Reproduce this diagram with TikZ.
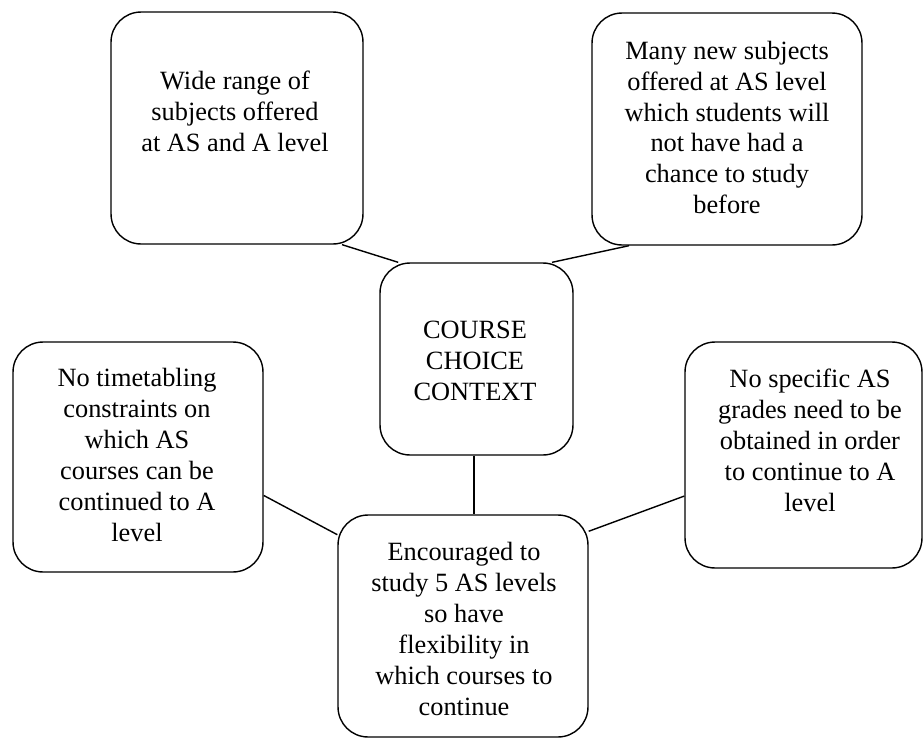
\documentclass[tikz,border=0pt]{standalone}
\usepackage{fontspec}
\setmainfont{Liberation Serif}
\begin{document}
\begin{tikzpicture}[x=0.02cm, y=-0.02cm,
    box/.style={draw, rounded corners=0.6cm, line width=0.8pt, inner sep=0pt},
    txt/.style={align=center, inner sep=0pt, font=\fontsize{15}{17.6}\selectfont},
    link/.style={line width=0.8pt}]

    \useasboundingbox (0,0) rectangle (923,741);

    % Boxes
    \node[box, minimum width=5.04cm, minimum height=4.64cm] (wide) at (237,128) {};
    \node[box, minimum width=5.40cm, minimum height=4.64cm] (new) at (727,129) {};
    \node[box, minimum width=3.86cm, minimum height=3.84cm] (ctx) at (476.5,359) {};
    \node[box, minimum width=5.00cm, minimum height=4.60cm] (timet) at (138,457) {};
    \node[box, minimum width=5.00cm, minimum height=4.44cm] (five) at (463,626) {};
    \node[box, minimum width=4.74cm, minimum height=4.52cm] (grades) at (803.5,455) {};

    % Texts
    \node[txt] (wide-t) at (235,111) {Wide range of\\subjects offered\\at AS and A level};
    \node[txt] (new-t) at (727,127.5) {Many new subjects\\offered at AS level\\which students will\\not have had a\\chance to study\\before};
    \node[txt] (ctx-t) at (475,361) {COURSE\\CHOICE\\CONTEXT};
    \node[txt] (timet-t) at (137,455) {No timetabling\\constraints on\\which AS\\courses can be\\continued to A\\level};
    \node[txt] (five-t) at (464,629) {Encouraged to\\study 5 AS levels\\so have\\flexibility in\\which courses to\\continue};
    \node[txt] (grades-t) at (810,440) {No specific AS\\grades need to be\\obtained in order\\to continue to A\\level};

    % Connectors
    \draw[link] (wide.-48) -- (ctx.129);
    \draw[link] (new.-130) -- (ctx.52);
    \draw[link] (ctx.south -| 474,0) -- (five.north -| 474,0);
    \draw[link] (timet.-17) -- (five.144);
    \draw[link] (five.37) -- (grades.199);

\end{tikzpicture}
\end{document}
